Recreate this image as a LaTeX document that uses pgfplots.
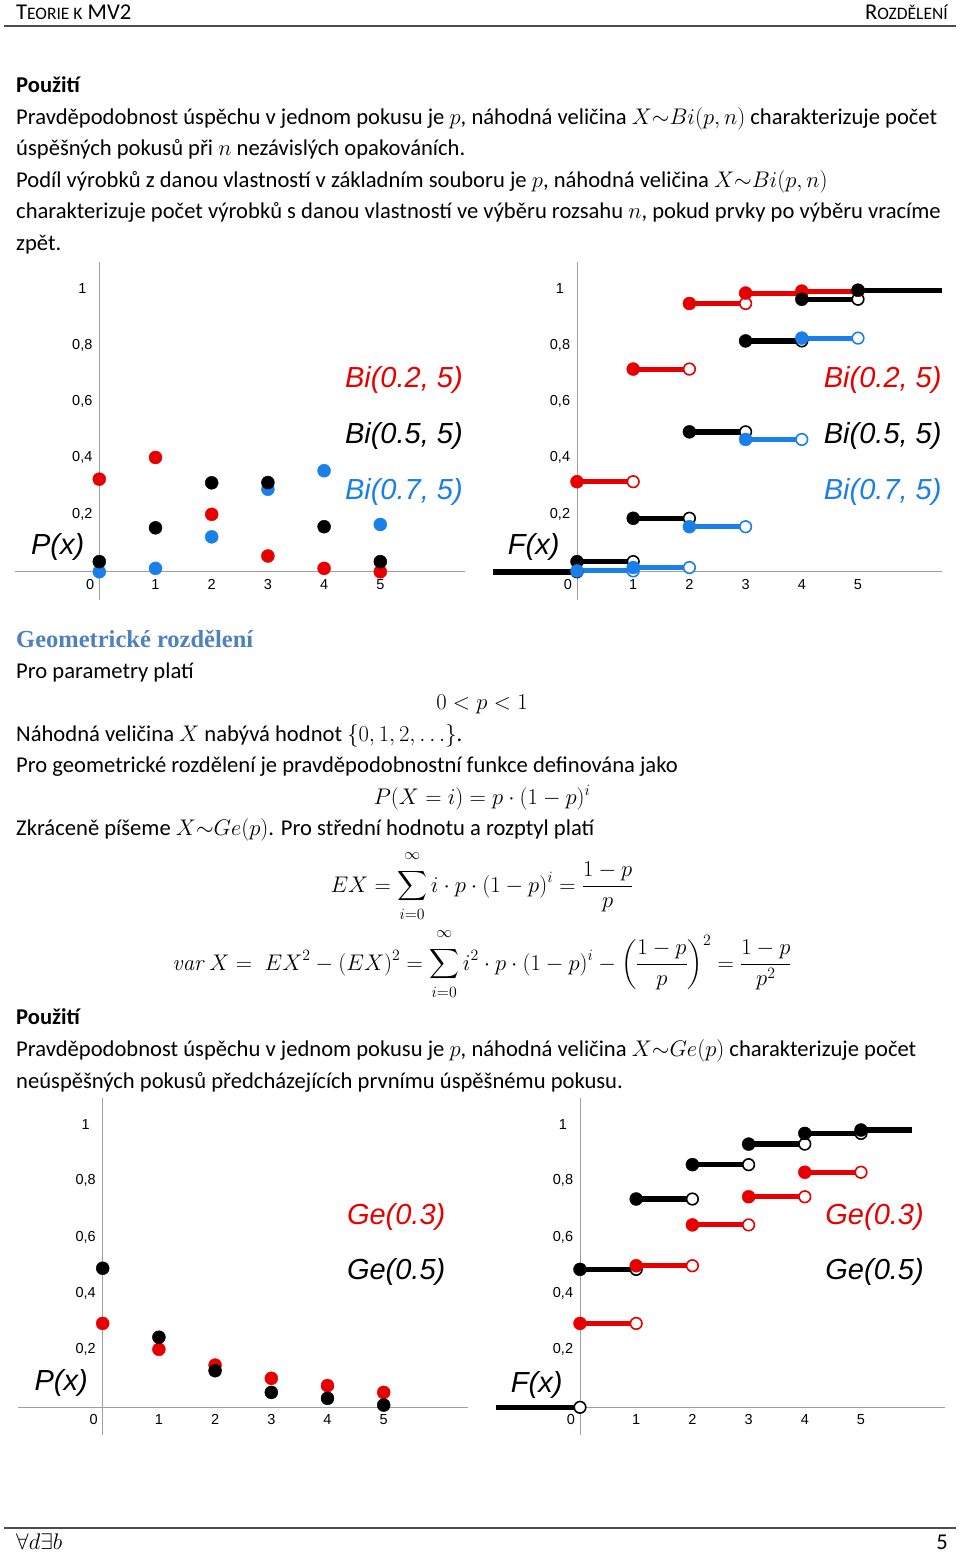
\RequirePackage{fix-cm}
\documentclass[border=0pt]{standalone}
\usepackage{exscale}
\usepackage[no-math]{fontspec}
\setmainfont{Carlito}
\newfontfamily\arial{Liberation Sans}
\newfontfamily\hserif{Liberation Serif}
\usepackage{xcolor}
\usepackage{pgfplots}
\pgfplotsset{compat=1.18}
\definecolor{cred}{RGB}{232,0,0}
\definecolor{cblue}{RGB}{26,127,232}
\definecolor{chead}{RGB}{79,129,189}
\newcommand\bodyfont{\fontsize{22.6}{31.6}\selectfont}
\newcommand\tickfont{\arial\fontsize{14.5}{16}\selectfont}
\newcommand\bigfont{\arial\itshape\fontsize{29}{32}\selectfont}
\newcommand\upl{\raisebox{6pt}{$\scriptstyle\infty$}}
\newcommand\lol{\raisebox{-4pt}{$\scriptstyle i=0$}}
\pgfplotsset{
  mystyle/.style={
    scale only axis, width=449.6pt, height=337.8pt,
    xmin=-1.5, xmax=6.5, ymin=-0.1, ymax=1.1,
    axis lines=middle,
    axis line style={-, draw=gray!75, line width=0.8pt},
    hide obscured x ticks=false, hide obscured y ticks=false,
    major tick length=0pt, tick style={draw=none},
    xtick={0,1,2,3,4,5},
    xticklabels={{\makebox[0pt][r]{0\hspace{5pt}}},1,2,3,4,5},
    ytick={0.2,0.4,0.6,0.8,1},
    yticklabels={{0,2},{0,4},{0,6},{0,8},1},
    tick label style={font=\tickfont},
    xticklabel style={anchor=center, yshift=-12.5pt},
    yticklabel style={anchor=center, xshift=-17pt, yshift=1.5pt},
    clip=false, anchor=south west,
  },
  steps/.style={jump mark left, mark=none, line width=5pt},
  filled/.style={only marks, mark=*, mark size=6.5pt, mark options={draw=#1, fill=#1}},
  open/.style={only marks, mark=*, mark size=5.8pt, mark options={draw=#1, fill=white, line width=1.6pt}},
}
\begin{document}
\begin{tikzpicture}[txt/.style={anchor=base west, inner sep=0pt, font=\bodyfont}]
\fill[white] (0pt,0pt) rectangle (960pt,-1553pt);
% header
\node[anchor=base west, inner sep=0pt, font=\fontsize{22.6}{24}\selectfont] at (16pt,-19pt) {T{\fontsize{17.5}{20}\selectfont EORIE K} MV2};
\node[anchor=base east, inner sep=0pt, font=\fontsize{22.6}{24}\selectfont] at (948pt,-19pt) {R{\fontsize{17.5}{20}\selectfont OZDĚLENÍ}};
\draw[line width=1.6pt, black!70] (4pt,-26pt) -- (956pt,-26pt);
% text block 1
\node[txt, font=\bodyfont\bfseries] at (16pt,-92pt) {Použití};
\node[txt] at (16pt,-124pt) {Pravděpodobnost úspěchu v jednom pokusu je $p$, náhodná veličina $X{\sim}Bi(p,n)$ charakterizuje počet};
\node[txt] at (16pt,-155.6pt) {úspěšných pokusů při $n$ nezávislých opakováních.};
\node[txt] at (16pt,-187.2pt) {Podíl výrobků z danou vlastností v základním souboru je $p$, náhodná veličina $X{\sim}Bi(p,n)$};
\node[txt] at (16pt,-218.8pt) {charakterizuje počet výrobků s danou vlastností ve výběru rozsahu $n$, pokud prvky po výběru vracíme};
\node[txt] at (16pt,-250.4pt) {zpět.};
% plot 1
\begin{axis}[mystyle, at={(15pt,-599.9pt)}]
\addplot[filled=cred] coordinates {(0,0.329)(1,0.406)(2,0.204)(3,0.056)(4,0.012)(5,0.0)};
\addplot[filled=cblue] coordinates {(0,0.0)(1,0.012)(2,0.124)(3,0.293)(4,0.359)(5,0.168)};
\addplot[filled=black] coordinates {(0,0.036)(1,0.156)(2,0.316)(3,0.317)(4,0.16)(5,0.036)};
\node[anchor=east, font=\bigfont, text=cred, inner sep=0pt] at (axis cs:6.47,0.681) {Bi(0.2, 5)};
\node[anchor=east, font=\bigfont, text=black, inner sep=0pt] at (axis cs:6.47,0.483) {Bi(0.5, 5)};
\node[anchor=east, font=\bigfont, text=cblue, inner sep=0pt] at (axis cs:6.47,0.283) {Bi(0.7, 5)};
\node[font=\bigfont, inner sep=0pt] at (axis cs:-0.74,0.089) {P(x)};
\end{axis}
% plot 2
\begin{axis}[mystyle, at={(492.7pt,-599.9pt)}]
\addplot[steps, cred] coordinates {(0,0.32)(1,0.72)(2,0.953)(3,0.99)(4,0.997)(5,1)};
\addplot[open=cred] coordinates {(1,0.32)(2,0.72)(3,0.953)(4,0.99)(5,0.997)};
\addplot[filled=cred] coordinates {(0,0.32)(1,0.72)(2,0.953)(3,0.99)(4,0.997)(5,1)};
\addplot[steps, black, line width=5.5pt] coordinates {(-1.5,0)(0,0.036)(1,0.19)(2,0.497)(3,0.82)(4,0.968)(5,1)(6.5,1)};
\addplot[open=black] coordinates {(0,0)(1,0.036)(2,0.19)(3,0.497)(4,0.82)(5,0.968)};
\addplot[filled=black] coordinates {(0,0.036)(1,0.19)(2,0.497)(3,0.82)(4,0.968)(5,1)};
\addplot[steps, cblue] coordinates {(0,0.003)(1,0.015)(2,0.16)(3,0.47)(4,0.83)(5,0.83)};
\addplot[open=cblue] coordinates {(1,0.003)(2,0.015)(3,0.16)(4,0.47)(5,0.83)};
\addplot[filled=cblue] coordinates {(0,0.003)(1,0.015)(2,0.16)(3,0.47)(4,0.83)};
\node[anchor=east, font=\bigfont, text=cred, inner sep=0pt] at (axis cs:6.49,0.681) {Bi(0.2, 5)};
\node[anchor=east, font=\bigfont, text=black, inner sep=0pt] at (axis cs:6.49,0.483) {Bi(0.5, 5)};
\node[anchor=east, font=\bigfont, text=cblue, inner sep=0pt] at (axis cs:6.49,0.283) {Bi(0.7, 5)};
\node[font=\bigfont, inner sep=0pt] at (axis cs:-0.77,0.089) {F(x)};
\end{axis}
% text block 2
\node[txt, font=\hserif\bfseries\fontsize{24.5}{28}\selectfont, text=chead] at (16pt,-647pt) {Geometrické rozdělení};
\node[txt] at (16pt,-678pt) {Pro parametry platí};
\node[anchor=base, inner sep=0pt, font=\bodyfont] at (482pt,-709.5pt) {$0<p<1$};
\node[txt] at (16pt,-741pt) {Náhodná veličina $X$ nabývá hodnot $\{0,1,2,\dots\}$.};
\node[txt] at (16pt,-772.5pt) {Pro geometrické rozdělení je pravděpodobnostní funkce definována jako};
\node[anchor=base, inner sep=0pt, font=\bodyfont] at (482pt,-804pt) {$P(X=i)=p\cdot(1-p)^i$};
\node[txt] at (16pt,-835.5pt) {Zkráceně píšeme $X{\sim}Ge(p)$. Pro střední hodnotu a rozptyl platí};
\node[anchor=base, inner sep=0pt, font=\bodyfont] at (482pt,-892pt) {$\displaystyle EX=\sum_{\lol}^{\upl} i\cdot p\cdot(1-p)^i=\frac{1-p}{p}$};
\node[anchor=base, inner sep=0pt, font=\bodyfont] at (482pt,-970pt) {$\displaystyle \mathit{var}\,X=\;EX^2-(EX)^2=\sum_{\lol}^{\upl} i^2\cdot p\cdot(1-p)^i-\left(\frac{1-p}{p}\right)^{2}=\frac{1-p}{p^2}$};
\node[txt, font=\bodyfont\bfseries] at (16pt,-1024pt) {Použití};
\node[txt] at (16pt,-1056pt) {Pravděpodobnost úspěchu v jednom pokusu je $p$, náhodná veličina $X{\sim}Ge(p)$ charakterizuje počet};
\node[txt] at (16pt,-1088pt) {neúspěšných pokusů předcházejících prvnímu úspěšnému pokusu.};
% plot 3
\begin{axis}[mystyle, at={(18.4pt,-1435.45pt)}]
\addplot[filled=cred] coordinates {(0,0.298)(1,0.206)(2,0.150)(3,0.103)(4,0.077)(5,0.053)};
\addplot[filled=black] coordinates {(0,0.494)(1,0.249)(2,0.13)(3,0.053)(4,0.032)(5,0.008)};
\node[anchor=east, font=\bigfont, text=cred, inner sep=0pt] at (axis cs:6.10,0.677) {Ge(0.3)};
\node[anchor=east, font=\bigfont, text=black, inner sep=0pt] at (axis cs:6.10,0.482) {Ge(0.5)};
\node[font=\bigfont, inner sep=0pt] at (axis cs:-0.74,0.085) {P(x)};
\end{axis}
% plot 4
\begin{axis}[mystyle, at={(495.7pt,-1435.45pt)}]
\addplot[steps, black, line width=5.5pt] coordinates {(-1.5,0)(0,0.49)(1,0.74)(2,0.862)(3,0.935)(4,0.973)(5,0.985)(5.9,0.985)};
\addplot[open=black] coordinates {(0,0)(1,0.49)(2,0.74)(3,0.862)(4,0.935)(5,0.973)};
\addplot[filled=black] coordinates {(0,0.49)(1,0.74)(2,0.862)(3,0.935)(4,0.973)(5,0.985)};
\addplot[steps, cred] coordinates {(0,0.298)(1,0.503)(2,0.648)(3,0.748)(4,0.835)(5,0.835)};
\addplot[open=cred] coordinates {(1,0.298)(2,0.503)(3,0.648)(4,0.748)(5,0.835)};
\addplot[filled=cred] coordinates {(0,0.298)(1,0.503)(2,0.648)(3,0.748)(4,0.835)};
\node[anchor=east, font=\bigfont, text=cred, inner sep=0pt] at (axis cs:6.12,0.677) {Ge(0.3)};
\node[anchor=east, font=\bigfont, text=black, inner sep=0pt] at (axis cs:6.12,0.482) {Ge(0.5)};
\node[font=\bigfont, inner sep=0pt] at (axis cs:-0.77,0.079) {F(x)};
\end{axis}
% footer
\draw[line width=1.6pt, black!70] (4pt,-1528pt) -- (956pt,-1528pt);
\node[anchor=base west, inner sep=0pt, font=\bodyfont] at (16pt,-1549pt) {$\forall d\exists b$};
\node[anchor=base east, inner sep=0pt, font=\bodyfont] at (948pt,-1549pt) {5};
\end{tikzpicture}
\end{document}
